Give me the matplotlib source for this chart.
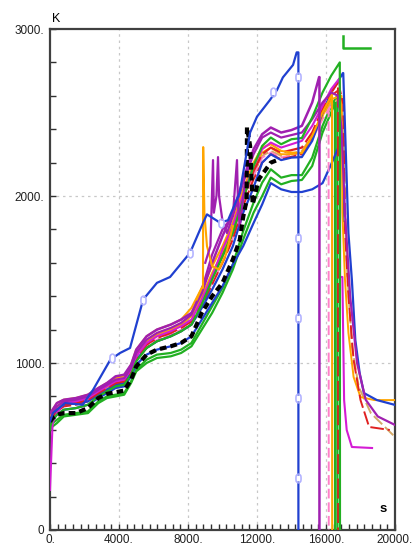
import matplotlib
matplotlib.use("Agg")
import matplotlib.pyplot as plt
from matplotlib.ticker import FixedLocator, MultipleLocator

plt.rcParams['font.family'] = ['Liberation Sans', 'DejaVu Sans']

# time grid shared by the bundle of temperature traces (s)
grid_t = [0, 150, 400, 800, 1500, 2200, 2800, 3300, 3800, 4300, 4700, 5000, 5600,
          6200, 7000, 7600, 8200, 8800, 9400, 10000, 10600, 11200, 11800, 12300,
          12800, 13400, 14000, 14600, 15200, 15800, 16300]

# temperatures on grid_t (K)
purple_top = [700, 720, 760, 780, 790, 810, 850, 880, 920, 930, 990, 1080, 1160, 1200,
              1230, 1260, 1300, 1420, 1600, 1760, 1900, 2100, 2280, 2370, 2410, 2380,
              2395, 2420, 2560]
purple_2 = [650, 700, 740, 770, 780, 800, 840, 870, 900, 910, 970, 1060, 1140, 1180,
            1210, 1240, 1290, 1440, 1650, 1800, 1880, 2080, 2250, 2350, 2380, 2350,
            2365, 2380, 2460, 2560, 2620]
magenta = [240, 640, 700, 760, 770, 790, 830, 860, 890, 900, 960, 1040, 1120, 1160,
           1190, 1220, 1260, 1380, 1520, 1680, 1820, 2010, 2180, 2280, 2320, 2290,
           2310, 2330, 2420, 2540, 2640]
green_top = [620, 660, 690, 720, 730, 750, 800, 830, 860, 870, 930, 1010, 1090, 1130,
             1160, 1190, 1230, 1350, 1500, 1640, 1780, 1980, 2180, 2300, 2350, 2310,
             2340, 2347, 2470, 2620, 2720]
green_2 = [600, 620, 640, 680, 690, 700, 760, 790, 800, 810, 880, 950, 1000, 1030,
           1040, 1060, 1100, 1200, 1300, 1420, 1560, 1740, 1900, 2000, 2110, 2070,
           2090, 2096, 2180, 2380, 2500]
green_3 = [610, 640, 660, 690, 700, 710, 770, 800, 810, 820, 890, 960, 1020, 1050,
           1060, 1080, 1120, 1230, 1340, 1450, 1590, 1790, 1960, 2080, 2160, 2110,
           2125, 2125, 2230, 2420, 2540]
red_1 = [640, 680, 720, 750, 760, 780, 820, 850, 880, 890, 950, 1030, 1110, 1150,
         1180, 1210, 1250, 1370, 1510, 1640, 1780, 1990, 2150, 2250, 2290, 2260,
         2275, 2290, 2380, 2520, 2620]
red_2 = [630, 670, 710, 740, 750, 770, 810, 840, 870, 880, 940, 1020, 1090, 1130,
         1160, 1190, 1230, 1340, 1470, 1600, 1740, 1940, 2100, 2200, 2250, 2220,
         2235, 2250, 2350, 2500, 2600]
orange_1 = [680, 720, 760, 780, 790, 810, 850, 880, 910, 920, 990, 1080, 1160, 1200,
            1230, 1260, 1330, 1450, 1580, 1700, 1840, 2040, 2200, 2290, 2310, 2270,
            2260, 2257, 2360, 2500, 2600]
orange_2 = [660, 700, 740, 770, 780, 800, 840, 860, 890, 900, 960, 1050, 1130, 1170,
            1200, 1230, 1280, 1400, 1540, 1660, 1800, 2000, 2160, 2260, 2290, 2250,
            2250, 2260, 2350, 2480, 2580]
tan_1 = [650, 690, 730, 760, 770, 790, 830, 850, 880, 890, 950, 1040, 1120, 1160,
         1190, 1220, 1270, 1390, 1520, 1640, 1760, 1960, 2130, 2240, 2270, 2240,
         2255, 2270, 2360, 2480, 2560]
pink_1 = [660, 690, 720, 750, 760, 780, 820, 840, 870, 880, 940, 1020, 1100, 1140,
          1170, 1200, 1240, 1360, 1480, 1600, 1750, 1950, 2120, 2230, 2260, 2230,
          2245, 2260, 2340, 2460, 2540]
blue_mid = [640, 680, 720, 750, 760, 770, 810, 840, 870, 880, 940, 1020, 1090, 1130,
            1160, 1190, 1230, 1330, 1440, 1560, 1700, 1900, 2050, 2200, 2250, 2215,
            2230, 2233, 2330, 2500, 2620]
blue_low = [630, 660, 690, 720, 730, 750, 790, 820, 850, 860, 920, 990, 1050, 1080,
            1100, 1120, 1160, 1260, 1360, 1460, 1590, 1700, 1838, 1950, 2077, 2040,
            2024, 2024, 2040, 2077, 2190]
black_1 = [650, 670, 690, 700, 700, 730, 790, 815, 825, 835, 900, 980, 1050, 1080,
           1100, 1120, 1160, 1300, 1400, 1480, 1620]

# late parts of each trace: (t, T) after the shared grid
purple_top_tail = ([15600, 15620, 15620], [2712, 2712, 0])
purple_2_tail = ([16700, 16900, 17100, 17400, 17800, 18300, 19000, 20000],
                 [2600, 2400, 1900, 1400, 1000, 780, 680, 629])
magenta_tail = ([16750, 16810, 16820, 16950, 17000, 17050, 17200, 17500, 18670],
                [2700, 2650, 1515, 1515, 1138, 778, 599, 497, 491])
green_top_tail = ([16800, 16810], [2800, 0])
green_2_tail = ([16520, 16530], [2560, 0])
green_3_tail = ([16650, 16660], [2600, 0])
red_1_tail = ([16700, 16710], [2680, 0])
red_2_tail = ([16800, 17000, 17100, 17300, 17600, 18000, 18500, 19700],
              [2640, 2550, 1800, 1400, 1018, 778, 617, 599])
orange_1_tail = ([16350, 16360], [2620, 0])
orange_2_tail = ([16900, 16950, 17100, 17300, 17600, 18000, 18800, 20000],
                 [2600, 1900, 1500, 1180, 916, 796, 778, 778])
tan_1_tail = ([16800, 17000, 17200, 17500, 17900, 18600, 20000],
              [2580, 2450, 1600, 1100, 856, 700, 557])
pink_1_tail = ([16150, 16160], [2540, 0])
blue_mid_tail = ([16980, 17000, 17300, 17500, 17700, 17950, 18200, 18950, 20000],
                 [2736, 2736, 1778, 1497, 1138, 940, 820, 778, 749])
blue_low_tail = ([16980, 17000], [2353, 1850])
black_1_tail = ([11000, 11200, 11400, 11420, 11600, 11750, 12100, 12800, 13300],
                [1737, 1875, 1976, 2413, 2300, 1950, 2100, 2200, 2220])

# short spiky excursions
orange_spike_t = [8500, 8800, 8870, 8880, 8950, 9100, 9400, 9800, 10200, 10600]
orange_spike_T = [1380, 1450, 1450, 2293, 1900, 1700, 1580, 1560, 1650, 1820]
purple_spike_t = [9000, 9300, 9450, 9500, 9650, 9740, 9800, 10000, 10260, 10600,
                  10840, 10900, 11000, 11300]
purple_spike_T = [1600, 1700, 2215, 1900, 2000, 2233, 2000, 1850, 1778, 1880,
                  2215, 1950, 1815, 2080]

# hottest trace, runs ahead and fails first
blue_high_t = [0, 170, 870, 1900, 2500, 3500, 4060, 4640, 5400, 6200, 6960, 8120,
               8870, 9100, 9860, 10320, 11000, 11600, 12000, 12750, 13160, 13500,
               14090, 14300, 14400, 14400]
blue_high_T = [650, 700, 760, 750, 840, 1020, 1060, 1090, 1380, 1480, 1515, 1660,
               1840, 1890, 1840, 1855, 2020, 2380, 2475, 2575, 2635, 2710, 2785,
               2860, 2860, 0]
# "0" symbols along the hottest trace
blue_mark_t = [3600, 5400, 8120, 9900, 12930, 14400, 14400, 14400, 14400, 14400]
blue_mark_T = [1030, 1380, 1660, 1840, 2625, 2712, 1748, 1269, 790, 311]

green_hook_t = [17000, 17000, 18550]
green_hook_T = [2960, 2885, 2885]

BLUE = '#2040d0'
PURPLE = '#a020b0'
MAGENTA = '#d41cd4'
GREEN = '#22b022'
ORANGE = '#ffa500'
RED = '#e02020'
TAN = '#d4a868'
PINK = '#ff80c8'

fig = plt.figure(figsize=(4.15, 5.51), dpi=100)
ax = fig.add_axes([50 / 415, 1 - 530 / 551, 345 / 415, 501 / 551])

traces = [
    (green_2, green_2_tail, GREEN, '-', 1.6),
    (green_3, green_3_tail, GREEN, '-', 1.6),
    (blue_low, blue_low_tail, BLUE, '-', 1.6),
    (tan_1, tan_1_tail, TAN, (0, (6, 2)), 1.4),
    (pink_1, pink_1_tail, PINK, (0, (5, 2)), 1.4),
    (orange_2, orange_2_tail, ORANGE, '-', 1.4),
    (red_2, red_2_tail, RED, (0, (7, 2)), 1.4),
    (blue_mid, blue_mid_tail, BLUE, '-', 1.6),
    (red_1, red_1_tail, RED, (0, (9, 2)), 1.6),
    (orange_1, orange_1_tail, ORANGE, '-', 1.5),
    (magenta, magenta_tail, MAGENTA, '-', 1.5),
    (purple_2, purple_2_tail, PURPLE, '-', 1.6),
    (green_top, green_top_tail, GREEN, '-', 1.6),
    (purple_top, purple_top_tail, PURPLE, '-', 1.8),
]
for vals, (tail_t, tail_T), col, ls, lw in traces:
    t = grid_t[:len(vals)] + tail_t
    T = vals + tail_T
    ax.plot(t, T, color=col, linestyle=ls, linewidth=lw, zorder=3)

ax.plot(orange_spike_t, orange_spike_T, color=ORANGE, linewidth=1.5, zorder=3)
ax.plot(purple_spike_t, purple_spike_T, color=PURPLE, linewidth=1.6, zorder=3)

ax.plot(grid_t[:len(black_1)] + black_1_tail[0], black_1 + black_1_tail[1],
        color='black', linestyle=(0, (1.6, 1.0)), linewidth=3.0, zorder=4)

ax.plot(blue_high_t, blue_high_T, color=BLUE, linewidth=1.6, zorder=5)
ax.plot(blue_mark_t, blue_mark_T, linestyle='none', marker='s', markersize=5,
        markerfacecolor='white', markeredgecolor='none', zorder=6)
ax.plot(blue_mark_t, blue_mark_T, linestyle='none', marker='$0$', markersize=7,
        markerfacecolor='#b0b0ff', markeredgecolor='#b0b0ff', markeredgewidth=0.3,
        zorder=7)
ax.plot(green_hook_t, green_hook_T, color=GREEN, linewidth=1.8, zorder=5)

ax.set_xlim(0, 20000)
ax.set_ylim(0, 3000)

for x in [4000, 8000, 12000, 16000]:
    ax.axvline(x, color='#c8c8c8', linestyle=(0, (2, 3)), linewidth=0.9, zorder=1)
for y in [1000, 2000]:
    ax.axhline(y, color='#c8c8c8', linestyle=(0, (2, 3)), linewidth=0.9, zorder=1)

ax.xaxis.set_major_locator(FixedLocator([0, 4000, 8000, 12000, 16000, 20000]))
ax.set_xticklabels(['0.', '4000.', '8000.', '12000.', '16000.', '20000.'])
ax.xaxis.set_minor_locator(MultipleLocator(4000 / 9))
ax.yaxis.set_major_locator(FixedLocator([0, 1000, 2000, 3000]))
ax.set_yticklabels(['0', '1000.', '2000.', '3000.'])
ax.yaxis.set_minor_locator(MultipleLocator(200))

ax.tick_params(which='both', direction='in', color='#303030', width=1.0,
               labelsize=8.5, labelcolor='#202020')
ax.tick_params(which='major', length=4)
ax.tick_params(which='minor', length=4)
ax.tick_params(axis='x', pad=3)
ax.tick_params(axis='y', pad=4)

for sp in ax.spines.values():
    sp.set_color('#404040')
    sp.set_linewidth(1.6)

ax.text(0.005, 1.008, 'K', transform=ax.transAxes, fontsize=9, ha='left', va='bottom')
ax.text(0.975, 0.03, 's', transform=ax.transAxes, fontsize=9.5, fontweight='bold',
        ha='right', va='bottom')

fig.savefig('out.png', dpi=100)
